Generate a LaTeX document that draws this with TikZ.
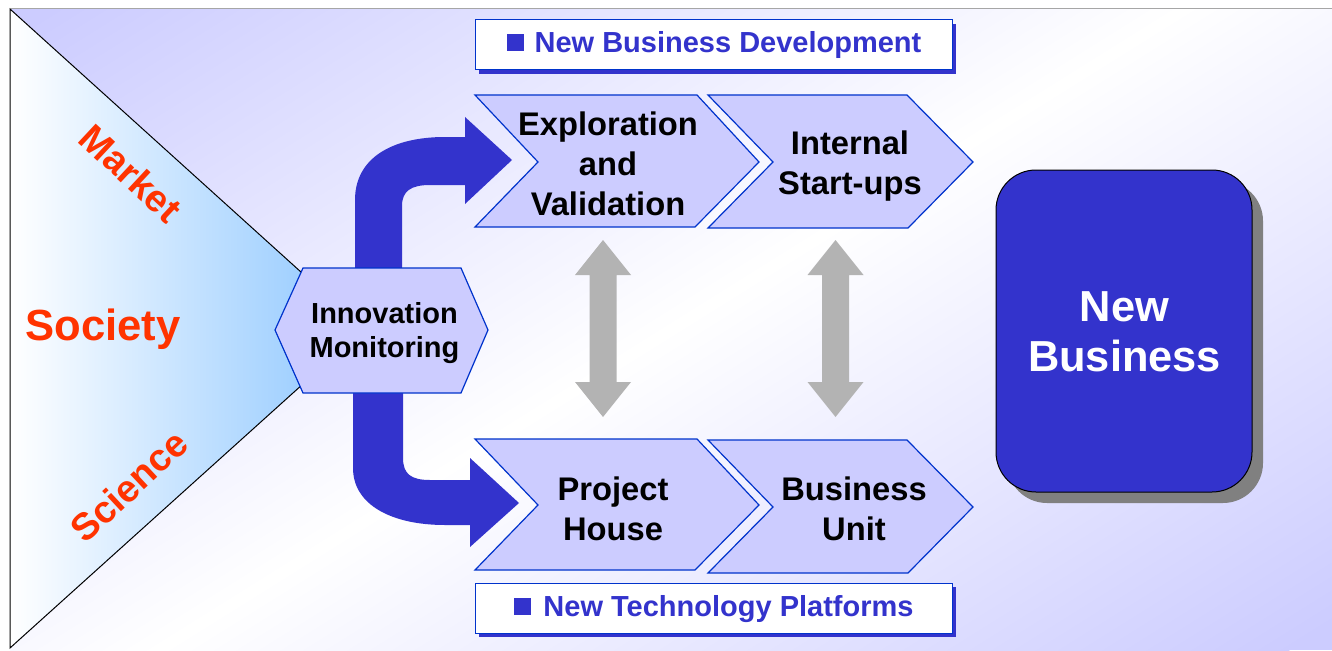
\documentclass[tikz,border=0pt]{standalone}
\usepackage{fontspec}
\setmainfont{Liberation Sans}
\definecolor{lav}{HTML}{CCCCFF}
\definecolor{navy}{HTML}{3333CC}
\definecolor{edgeblue}{HTML}{0033CC}
\definecolor{redtxt}{HTML}{FF3300}
\definecolor{skyb}{HTML}{8CC6FF}
\definecolor{grayarr}{HTML}{B3B3B3}
\definecolor{shadowgray}{HTML}{808080}
\begin{document}
\begin{tikzpicture}[x=1pt,y=-1pt,
  chevbox/.style={fill=lav, draw=edgeblue, line width=1.2pt, line join=miter},
  chevtext/.style={font=\bfseries\fontsize{32.7}{40}\selectfont, align=center, text=black, inner sep=0pt},
  redlab/.style={text=redtxt, font=\bfseries\fontsize{38}{42}\selectfont, inner sep=0pt},
  labelbox/.style={fill=white, draw=edgeblue, line width=1pt},
  labelshadow/.style={fill=navy},
  labeltext/.style={text=navy, font=\bfseries\fontsize{29}{34}\selectfont, inner sep=0pt},
  bluearrow/.style={fill=navy},
  grayarrow/.style={fill=grayarr}]
\useasboundingbox (0,0) rectangle (1332,650);
% background
\begin{scope}
  \clip (10,9) rectangle (1332,650);
  \fill[lav] (10,9) rectangle (1332,650);
  \begin{scope}[transform canvas={rotate around={32:(670,330)}}]
    \shade[top color=lav, bottom color=lav, middle color=white]
      (-130,-270) rectangle (1470,930);
  \end{scope}
\end{scope}
\draw[gray!70, line width=1pt] (10,9) -- (1332,9);
% triangle
\shade[left color=white, right color=skyb] (10,9) -- (364,329) -- (10,648) -- cycle;
\draw[black, line width=1pt] (10,9) -- (364,329) -- (10,648) -- cycle;
\node[redlab, rotate=-43] (market) at (131,173) {Market};
\node[redlab, font=\bfseries\fontsize{43.6}{48}\selectfont] (society) at (103,329) {Society};
\node[redlab, rotate=43] (science) at (129,486) {Science};
% blue curved arrows
\path[bluearrow] (355,290) -- (355,200) .. controls (355,158) and (392,137) .. (445,137)
  -- (465,137) -- (465,117) -- (512,160) -- (465,204) -- (465,185) -- (430,185)
  .. controls (411,185) and (402,191) .. (402,206) -- (402,290) -- cycle;
\path[bluearrow] (353,370) -- (353,468) .. controls (353,505) and (392,525) .. (445,525)
  -- (470,525) -- (470,547) -- (519,503) -- (470,458) -- (470,480) -- (430,480)
  .. controls (411,480) and (403,474) .. (403,458) -- (403,370) -- cycle;
% hexagon
\path[chevbox] (275,330) -- (303,268) -- (461,268) -- (488,330) -- (461,393) -- (303,393) -- cycle;
\node[font=\bfseries\fontsize{29}{34}\selectfont, align=center, inner sep=0pt] (im) at (384.5,333) {Innovation\\Monitoring};
% chevrons
\path[chevbox] (475,95) -- (697,95) -- (759,162) -- (695,227) -- (475,227) -- (538,162) -- cycle;
\path[chevbox] (708,95) -- (907,95) -- (973,162) -- (908,228) -- (708,228) -- (773,162) -- cycle;
\path[chevbox] (475,439) -- (697,439) -- (759,505) -- (695,570) -- (475,570) -- (538,505) -- cycle;
\path[chevbox] (708,440) -- (907,440) -- (973,507) -- (908,573) -- (708,573) -- (773,507) -- cycle;
\node[chevtext] (expl) at (608,164) {Exploration\\and\\Validation};
\node[chevtext] (isu) at (850,166) {Internal\\Start-ups};
\node[chevtext] (ph) at (613,509) {Project\\House};
\node[chevtext] (bu) at (854,509) {Business\\Unit};
% gray double arrows
\foreach \cx/\nm in {603/ga, 835.5/gb}{
  \path[grayarrow] (\cx,240) -- (\cx+28,275) -- (\cx+13.5,275) -- (\cx+13.5,382) -- (\cx+28,382)
    -- (\cx,417) -- (\cx-28,382) -- (\cx-13.5,382) -- (\cx-13.5,275) -- (\cx-28,275) -- cycle;
}
% label boxes
\path[labelshadow] (479,24) rectangle (956,74);
\path[labelbox] (475,20) rectangle (952,70);
\node[labeltext] (nbd) at (714,45) {\raisebox{1pt}{\rule{17pt}{17pt}}\hspace{11pt}New Business Development};
\path[labelshadow] (479,587) rectangle (956,637);
\path[labelbox] (475,583) rectangle (952,633);
\node[labeltext] (ntp) at (714,609) {\raisebox{1pt}{\rule{17pt}{17pt}}\hspace{12pt}New Technology Platforms};
% new business box
\path[fill=shadowgray, rounded corners=40pt] (1007,181) rectangle (1263,503);
\path[fill=navy, draw=black, line width=1pt, rounded corners=40pt] (996,170) rectangle (1252,492);
\node[text=white, font=\bfseries\fontsize{43.4}{50}\selectfont, align=center, inner sep=0pt] (nb) at (1124.5,332) {New\\Business};
\end{tikzpicture}
\end{document}
